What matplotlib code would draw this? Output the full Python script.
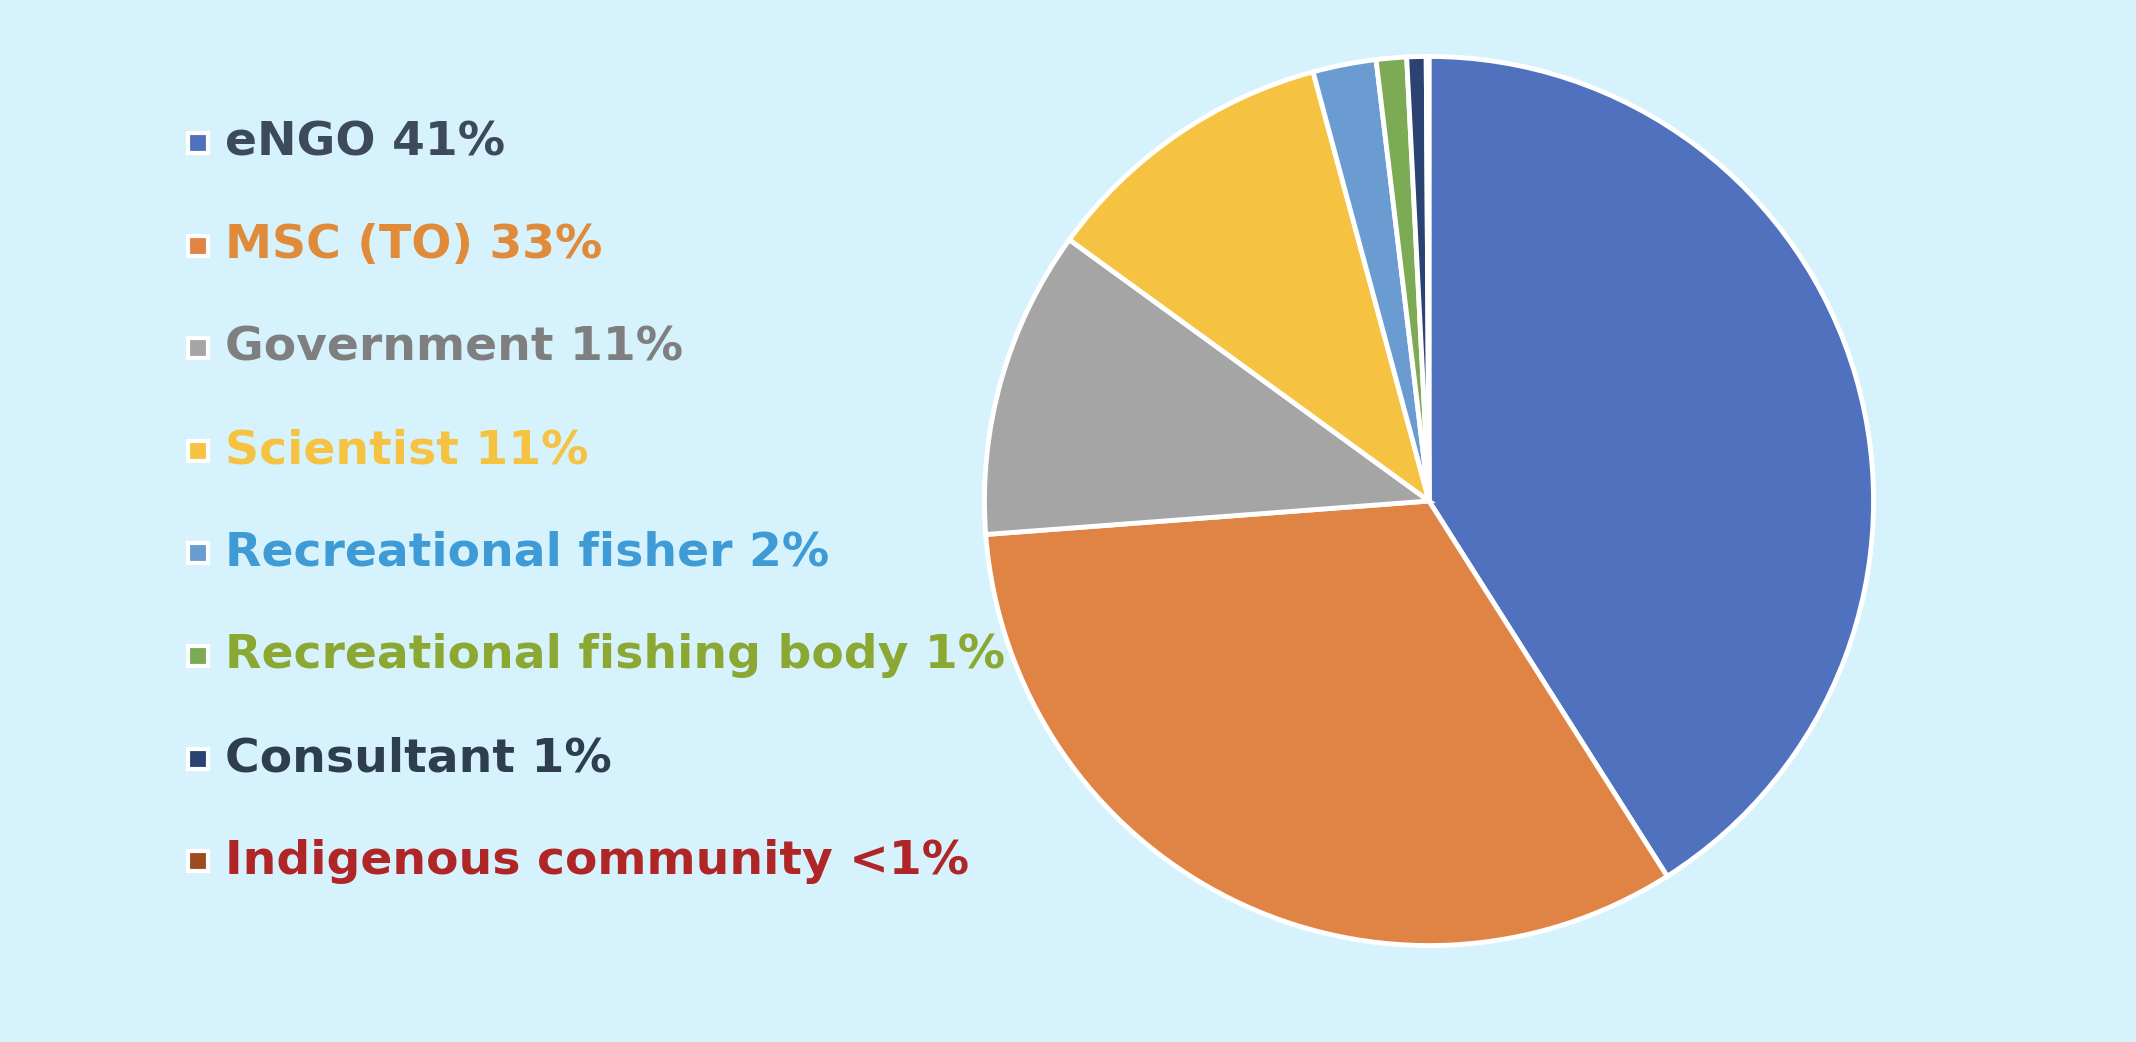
import matplotlib
matplotlib.use("Agg")
import matplotlib.pyplot as plt
from matplotlib.patches import Rectangle

labels = ["eNGO 41%", "MSC (TO) 33%", "Government 11%", "Scientist 11%",
          "Recreational fisher 2%", "Recreational fishing body 1%",
          "Consultant 1%", "Indigenous community <1%"]
values = [41.0, 32.8, 11.2, 10.8, 2.3, 1.1, 0.7, 0.1]
colors = ["#4F71BE", "#E08445", "#A5A5A5", "#F5C242", "#6A9BD1", "#7DAB55", "#2B4272", "#9E4A1F"]
text_colors = ["#3C4A5C", "#E08B3A", "#7F7F7F", "#F5C242", "#3E9BD6", "#8AA832", "#2E3D50", "#B02626"]

W, H = 2136, 1042
bg = "#D6F3FD"
fig = plt.figure(figsize=(W/100, H/100), dpi=100, facecolor=bg)

cx, cy, r = 1429, 1042-501, 449
ax = fig.add_axes([(cx-r)/W, (cy-r)/H, 2*r/W, 2*r/H])
ax.set_facecolor(bg)
ax.pie(values, colors=colors, startangle=90, counterclock=False,
       wedgeprops=dict(edgecolor="white", linewidth=3.5))
ax.set_xlim(-1.01, 1.01); ax.set_ylim(-1.01, 1.01)
ax.set_aspect("auto")
ax.axis("off")

for i, (lab, c, tc) in enumerate(zip(labels, colors, text_colors)):
    y = 143 + i*102.6
    fig.add_artist(Rectangle(((188)/W, 1-(y+10)/H), 20/W, 20/H, transform=fig.transFigure,
                             facecolor=c, edgecolor="white", linewidth=3))
    fig.text(225/W, 1-y/H, lab, color=tc, fontsize=34, fontweight="bold",
             va="center", ha="left", family=["DejaVu Sans"])

fig.savefig("out.png", dpi=100, facecolor=bg)
